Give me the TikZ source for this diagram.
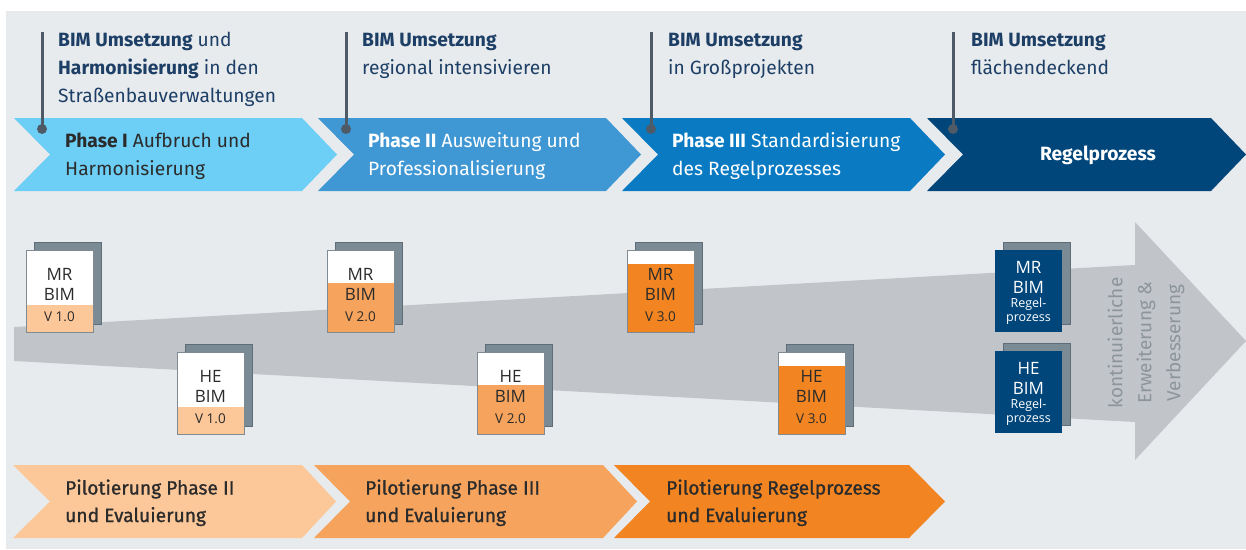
\documentclass[tikz,border=0pt]{standalone}
\usepackage{fontspec}
\setmainfont{Fira Sans}
\newfontfamily\docfont{Open Sans}
\newfontfamily\medfont[FakeBold=1.0]{Fira Sans}
\definecolor{bgc}{HTML}{E8EBEE}
\definecolor{arrowc}{HTML}{C1C5C9}
\definecolor{chA}{HTML}{6DCFF6}
\definecolor{chB}{HTML}{3F97D4}
\definecolor{chC}{HTML}{0A7BC2}
\definecolor{chD}{HTML}{00467A}
\definecolor{linec}{HTML}{4E5B66}
\definecolor{navy}{HTML}{1D3F66}
\definecolor{orA}{HTML}{FCC899}
\definecolor{orB}{HTML}{F6A45D}
\definecolor{orC}{HTML}{F28522}
\definecolor{backc}{HTML}{7B8B95}
\definecolor{backedge}{HTML}{5E6D77}
\definecolor{frontedge}{HTML}{7F8A92}
\definecolor{darktxt}{HTML}{2B2B2B}
\definecolor{rotc}{HTML}{8C959C}
\tikzset{
  hdr/.style={anchor=base west, align=left, inner sep=0pt, font=\fontsize{19.2}{28}\selectfont, text=navy},
  vline/.style={draw=linec, line width=3pt},
  vdot/.style={circle, fill=linec, inner sep=0pt, minimum size=10pt},
  chevtxt/.style={anchor=base west, align=left, inner sep=0pt, font=\fontsize{19.2}{28}\selectfont},
  lowtxt/.style={anchor=base west, align=left, inner sep=0pt, font=\medfont\fontsize{19.2}{27.5}\selectfont, text=darktxt},
  docback/.style={draw=backedge, fill=backc, line width=1pt, minimum width=67pt, minimum height=82pt, inner sep=0pt, anchor=north west},
  docfront/.style={fill=white, minimum width=67pt, minimum height=82pt, inner sep=0pt, anchor=north west},
  docedge/.style={draw=frontedge, line width=1pt},
  doctxt/.style={inner sep=0pt, font=\docfont\fontsize{17}{20}\selectfont, text=darktxt},
  docver/.style={inner sep=0pt, font=\docfont\fontsize{13.5}{16}\selectfont, text=darktxt},
  regtxt/.style={inner sep=0pt, font=\docfont\fontsize{17}{20}\selectfont, text=white},
  regsm/.style={inner sep=0pt, font=\docfont\fontsize{12.5}{15}\selectfont, text=white},
}
% name, x, y, band offset, band colour, line1, line2, version
\newcommand\docicon[8]{%
  \begin{scope}[shift={(#2,#3)}]
    \node[docback] (#1b) at (8,-8) {};
    \node[docfront] (#1) at (0,0) {};
    \fill[#5] (0,#4) rectangle (67,82);
    \draw[docedge] (#1.north west) rectangle (#1.south east);
    \node[doctxt] (#1l1) at (33.5,24) {#6};
    \node[doctxt] (#1l2) at (33.5,44) {#7};
    \node[docver] (#1v) at (33.5,67) {#8};
  \end{scope}}
\newcommand\regicon[4]{%
  \begin{scope}[shift={(#2,#3)}]
    \node[docback] (#1b) at (8,-8) {};
    \node[docfront, fill=chD] (#1) at (0,0) {};
    \node[regtxt] (#1l1) at (33.5,17) {#4};
    \node[regtxt] (#1l2) at (33.5,37) {BIM};
    \node[regsm] (#1l3) at (33.5,54) {Regel-};
    \node[regsm] (#1l4) at (33.5,70) {prozess};
  \end{scope}}
\begin{document}
\begin{tikzpicture}[x=1pt,y=-1pt]
\useasboundingbox (0,0) rectangle (1246,549);
\fill[white] (0,0) rectangle (1246,549);
\fill[bgc] (6,11) rectangle (1246,549);

% big gray arrow
\fill[arrowc] (14,327) -- (1135,265) -- (1135,222) -- (1246,341) -- (1135,460) -- (1135,422) -- (14,361) -- cycle;

% top chevrons
\fill[chA] (14,118) -- (302,118) -- (337,154.5) -- (302,191) -- (14,191) -- (50,154.5) -- cycle;
\fill[chB] (318,118) -- (606,118) -- (641,154.5) -- (606,191) -- (318,191) -- (354,154.5) -- cycle;
\fill[chC] (622,118) -- (910,118) -- (945,154.5) -- (910,191) -- (622,191) -- (658,154.5) -- cycle;
\fill[chD] (927,118) -- (1211,118) -- (1246,154.5) -- (1211,191) -- (927,191) -- (963,154.5) -- cycle;

% header texts (anchored at baseline of last line)
\node[hdr] (h1) at (58,102) {\textbf{BIM Umsetzung} und\\\textbf{Harmonisierung} in den\\Straßenbauverwaltungen};
\node[hdr] (h2) at (362,74) {\textbf{BIM Umsetzung}\\regional intensivieren};
\node[hdr] (h3) at (668,74) {\textbf{BIM Umsetzung}\\in Großprojekten};
\node[hdr] (h4) at (971,74) {\textbf{BIM Umsetzung}\\flächendeckend};

% marker lines with dots
\coordinate (t1) at (42,32); \node[vdot] (d1) at (42,129) {};
\coordinate (t2) at (346,32); \node[vdot] (d2) at (346,129) {};
\coordinate (t3) at (651,32); \node[vdot] (d3) at (651,129) {};
\coordinate (t4) at (953,32); \node[vdot] (d4) at (953,129) {};
\draw[vline] (t1) -- (d1.center);
\draw[vline] (t2) -- (d2.center);
\draw[vline] (t3) -- (d3.center);
\draw[vline] (t4) -- (d4.center);

% chevron texts
\node[chevtxt, text=darktxt] (p1) at (65,175) {\textbf{Phase I} Aufbruch und\\Harmonisierung};
\node[chevtxt, text=white] (p2) at (368,175) {\textbf{Phase II} Ausweitung und\\Professionalisierung};
\node[chevtxt, text=white] (p3) at (672,175) {\textbf{Phase III} Standardisierung\\des Regelprozesses};
\node[inner sep=0pt, text=white, font=\bfseries\fontsize{19.2}{28}\selectfont] (p4) at (1098,155) {Regelprozess};

% document icons
\docicon{mra}{26}{250}{55}{orA}{MR}{BIM}{V 1.0}
\docicon{hea}{177}{352}{55}{orA}{HE}{BIM}{V 1.0}
\docicon{mrb}{327}{250}{33}{orB}{MR}{BIM}{V 2.0}
\docicon{heb}{477}{352}{33}{orB}{HE}{BIM}{V 2.0}
\docicon{mrc}{627}{250}{14}{orC}{MR}{BIM}{V 3.0}
\docicon{hec}{778}{352}{14}{orC}{HE}{BIM}{V 3.0}
\regicon{mrr}{995}{250}{MR}
\regicon{her}{995}{351}{HE}

% rotated text
\node[rotate=90, align=center, inner sep=0pt, text=rotc, font=\fontsize{19}{29}\selectfont] (kev) at (1146,343) {kontinuierliche\\Erweiterung \&\\Verbesserung};

% lower chevrons
\fill[orA] (13,465) -- (302,465) -- (336,501.5) -- (302,538) -- (13,538) -- (50,501.5) -- cycle;
\fill[orB] (314,465) -- (603,465) -- (637,501.5) -- (603,538) -- (314,538) -- (350,501.5) -- cycle;
\fill[orC] (614,465) -- (909,465) -- (945,501.5) -- (909,538) -- (614,538) -- (650,501.5) -- cycle;
\node[lowtxt] (l1) at (65,522) {Pilotierung Phase II\\und Evaluierung};
\node[lowtxt] (l2) at (365,522) {Pilotierung Phase III\\und Evaluierung};
\node[lowtxt] (l3) at (666,522) {Pilotierung Regelprozess\\und Evaluierung};
\end{tikzpicture}
\end{document}
